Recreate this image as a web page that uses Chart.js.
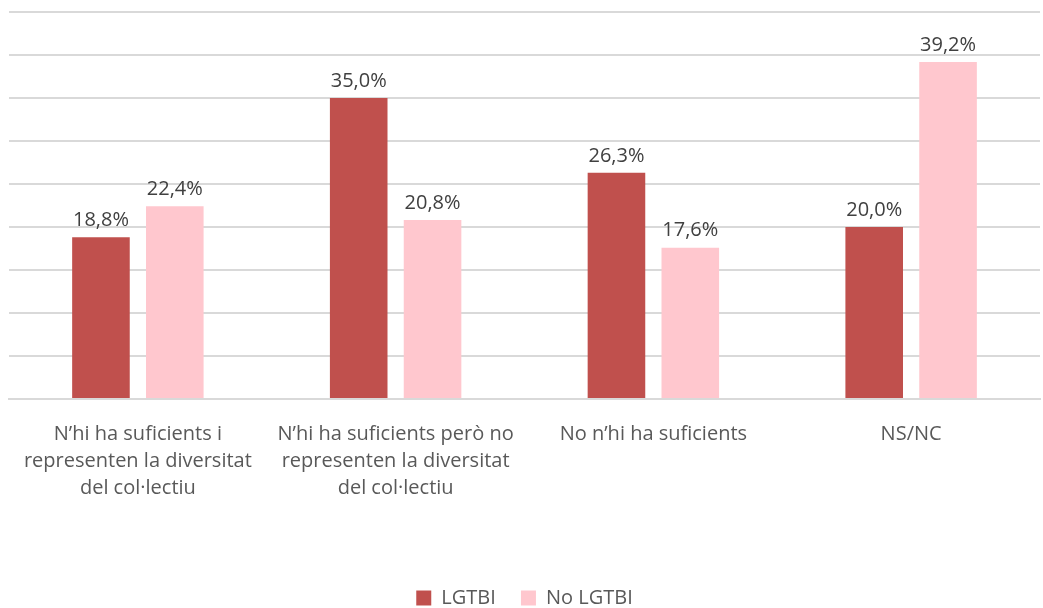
<!DOCTYPE html>
<html>
<head>
<meta charset="utf-8">
<script src="https://cdn.jsdelivr.net/npm/chart.js@4.4.1/dist/chart.umd.min.js"></script>
<style>
  html, body { margin: 0; padding: 0; background: #fff; }
  #wrap { width: 1043px; height: 608px; position: relative; }
</style>
</head>
<body>
<div id="wrap"><canvas id="chart"></canvas></div>
<script>
// categories and values
const categories = [
    ["N\u2019hi ha suficients i", "representen la diversitat", "del col\u00b7lectiu"],
    ["N\u2019hi ha suficients per\u00f2 no", "representen la diversitat", "del col\u00b7lectiu"],
    ["No n\u2019hi ha suficients"],
    ["NS/NC"]
];
const lgtbi = [18.8, 35.0, 26.3, 20.0];
const noLgtbi = [22.4, 20.8, 17.6, 39.2];
const seriesNames = ["LGTBI", "No LGTBI"];

const fontFamily = "'Open Sans', 'Liberation Sans', sans-serif";

// draws the value labels above each bar
const barLabels = {
    id: 'barLabels',
    afterDatasetsDraw(chart) {
        const ctx = chart.ctx;
        ctx.save();
        ctx.font = `20px ${fontFamily}`;
        ctx.fillStyle = '#404040';
        ctx.textAlign = 'center';
        ctx.textBaseline = 'bottom';
        chart.data.datasets.forEach((ds, i) => {
            chart.getDatasetMeta(i).data.forEach((bar, j) => {
                const txt = ds.data[j].toFixed(1).replace('.', ',') + '%';
                ctx.fillText(txt, bar.x, bar.y - 7);
            });
        });
        ctx.restore();
    }
};

const ctx = document.getElementById('chart').getContext('2d');
new Chart(ctx, {
    type: 'bar',
    data: {
        labels: categories,
        datasets: [{
            label: seriesNames[0],
            data: lgtbi,
            backgroundColor: '#C0504D',
            barPercentage: 0.78,
            categoryPercentage: 0.573
        }, {
            label: seriesNames[1],
            data: noLgtbi,
            backgroundColor: '#FFC7CE',
            barPercentage: 0.78,
            categoryPercentage: 0.573
        }]
    },
    options: {
        responsive: true,
        maintainAspectRatio: false,
        animation: false,
        layout: { padding: { top: 12, left: 9, right: 3, bottom: -10 } },
        scales: {
            y: {
                min: 0,
                max: 45,
                ticks: { stepSize: 5, display: false },
                border: { display: false },
                grid: { color: '#D9D9D9', lineWidth: 2, drawTicks: false }
            },
            x: {
                border: { color: '#D9D9D9', width: 2 },
                grid: { display: false },
                ticks: {
                    color: '#595959',
                    font: { family: fontFamily, size: 20, lineHeight: 1.35 },
                    padding: 14,
                    maxRotation: 0,
                    autoSkip: false
                },
                afterFit(scale) {
                    scale.height += 62;
                }
            }
        },
        plugins: {
            legend: {
                position: 'bottom',
                labels: {
                    color: '#595959',
                    font: { family: fontFamily, size: 20 },
                    boxWidth: 15,
                    boxHeight: 15,
                    padding: 10,
                    generateLabels(chart) {
                        const items = Chart.defaults.plugins.legend.labels.generateLabels(chart);
                        // a bit more room between the two legend entries
                        items[0].text += '\u2002 ';
                        return items;
                    }
                }
            },
            tooltip: { enabled: false }
        }
    },
    plugins: [barLabels]
});
</script>
</body>
</html>
